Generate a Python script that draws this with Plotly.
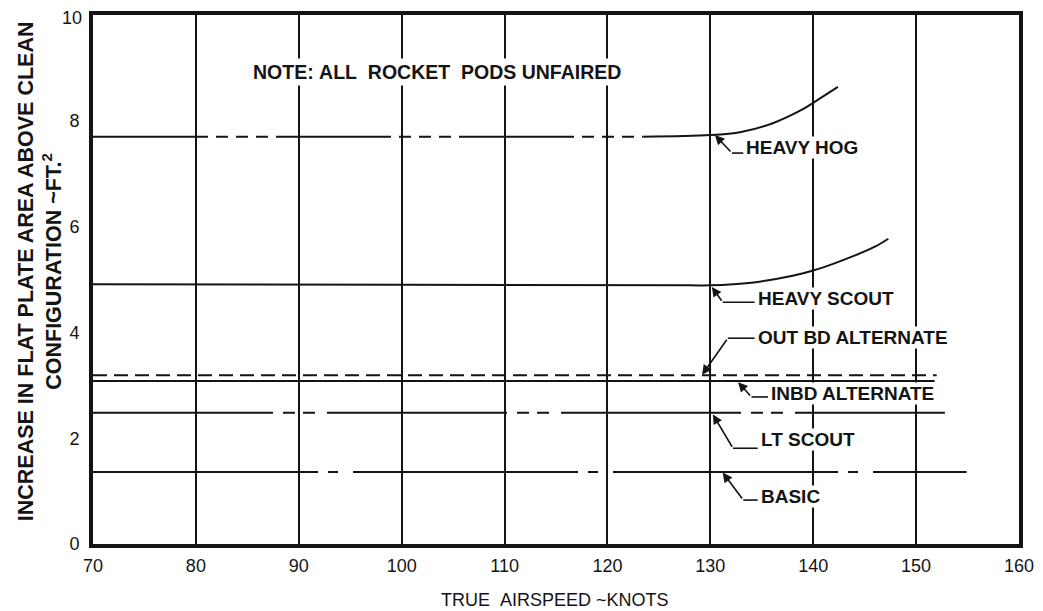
import plotly.graph_objects as go

# ---------------- data ----------------
X_TICKS = [70, 80, 90, 100, 110, 120, 130, 140, 150, 160]
Y_TICKS = [0, 2, 4, 6, 8, 10]

HOG_X = [70, 100, 123.5, 130, 133, 136, 139, 140, 142.4]
HOG_Y = [7.70, 7.70, 7.70, 7.73, 7.79, 7.95, 8.22, 8.34, 8.64]

SCOUT_X = [70, 100, 128, 130, 134, 138, 140, 142, 144, 146, 147.3]
SCOUT_Y = [4.91, 4.90, 4.89, 4.89, 4.94, 5.07, 5.17, 5.30, 5.45, 5.62, 5.77]

OUTBD_X = [70, 152.0]
OUTBD_Y = [3.19, 3.19]

INBD_X = [70, 151.8]
INBD_Y = [3.08, 3.08]

LT_X = [70, 152.8]
LT_Y = [2.48, 2.48]

BASIC_X = [70, 154.9]
BASIC_Y = [1.36, 1.36]

SERIES_NAMES = ["HEAVY HOG", "HEAVY SCOUT", "OUT BD ALTERNATE",
                "INBD ALTERNATE", "LT SCOUT", "BASIC"]

# label placement (tip on curve, kink, end of horizontal leader, text left/centre)
LABELS = [
    ("HEAVY HOG",        (130.45, 7.73), (132.1, 7.39), 133.2, 133.4, 7.50),
    ("HEAVY SCOUT",      (130.15, 4.86), (131.2, 4.57), 134.3, 134.5, 4.65),
    ("OUT BD ALTERNATE", (129.2, 3.20),  (131.7, 3.89), 134.3, 134.5, 3.91),
    ("INBD ALTERNATE",   (132.7, 3.06),  (134.0, 2.78), 135.6, 135.8, 2.85),
    ("LT SCOUT",         (130.25, 2.45), (132.2, 1.81), 134.6, 134.8, 1.98),
    ("BASIC",            (131.2, 1.35),  (133.2, 0.83), 134.6, 134.8, 0.89),
]

INK = "#141414"
FONT = "Liberation Sans, Arial, sans-serif"

fig = go.Figure()


def add_line(x, y, dash="solid", shape="linear"):
    fig.add_trace(go.Scatter(x=x, y=y, mode="lines",
                             line=dict(color=INK, width=2, dash=dash, shape=shape),
                             hoverinfo="skip", showlegend=False))


# HEAVY HOG: broken flat part, solid curved part
split = 123.5
hx1 = [x for x in HOG_X if x <= split]
hy1 = [y for x, y in zip(HOG_X, HOG_Y) if x <= split]
hx2 = [x for x in HOG_X if x >= split]
hy2 = [y for x, y in zip(HOG_X, HOG_Y) if x >= split]
add_line(hx1, hy1, dash="115px,8px,12px,8px,12px,8px,12px,8px")
add_line(hx2, hy2, shape="spline")

add_line(SCOUT_X, SCOUT_Y, shape="spline")
add_line(OUTBD_X, OUTBD_Y, dash="14px,7px")
add_line(INBD_X, INBD_Y)
add_line(LT_X, LT_Y, dash="180px,10px,12px,8px,12px,12px")
add_line(BASIC_X, BASIC_Y, dash="225px,10px,10px,15px")

annotations = []
shapes = []
for name, tip, kink, end_x, tx, ty in LABELS:
    annotations.append(dict(
        x=tip[0], y=tip[1], ax=kink[0], ay=kink[1], xref="x", yref="y",
        axref="x", ayref="y", text="", showarrow=True, arrowhead=2,
        arrowsize=1.2, arrowwidth=1.6, arrowcolor=INK, standoff=0))
    shapes.append(dict(type="line", xref="x", yref="y",
                       x0=kink[0], y0=kink[1], x1=end_x, y1=kink[1],
                       line=dict(color=INK, width=1.6)))
    annotations.append(dict(
        x=tx, y=ty, xref="x", yref="y", text=name, showarrow=False,
        xanchor="left", yanchor="middle", bgcolor="white", borderpad=0,
        font=dict(family=FONT, size=19, color=INK, weight="bold")))

# note
annotations.append(dict(
    x=103.4, y=8.92, xref="x", yref="y",
    text="NOTE:&nbsp;ALL&nbsp;&nbsp;ROCKET&nbsp;&nbsp;PODS&nbsp;UNFAIRED",
    showarrow=False, xanchor="center", yanchor="middle", bgcolor="white", borderpad=2,
    font=dict(family=FONT, size=19.5, color=INK, weight="bold")))

# top y tick label, nudged down slightly so it stays inside the page
top_tick = Y_TICKS[-1]
annotations.append(dict(
    x=0, y=top_tick, xref="paper", yref="y", text=str(top_tick),
    showarrow=False, xanchor="right", yanchor="top", xshift=-9, yshift=9,
    font=dict(family=FONT, size=18, color=INK)))

# axis titles
annotations.append(dict(
    x=-0.057, y=0.516, xref="paper", yref="paper", textangle=-90,
    text="INCREASE IN FLAT PLATE AREA ABOVE CLEAN<br>CONFIGURATION ~FT.<sup>2</sup>",
    showarrow=False, xanchor="center", yanchor="middle",
    font=dict(family=FONT, size=21.5, color=INK, weight="bold")))
annotations.append(dict(
    x=0.499, y=-0.105, xref="paper", yref="paper",
    text="TRUE&nbsp;&nbsp;AIRSPEED ~KNOTS", showarrow=False,
    xanchor="center", yanchor="middle",
    font=dict(family=FONT, size=18, color=INK)))

# the page places the figure 8 px in from the top-left corner
fig.update_layout(
    width=1035, height=603,
    margin=dict(l=85, r=24, t=7, b=67),
    paper_bgcolor="white", plot_bgcolor="white",
    showlegend=False,
    annotations=annotations, shapes=shapes,
    xaxis=dict(range=[70, 160], tickvals=X_TICKS, ticktext=[str(v) for v in X_TICKS],
               showgrid=True, gridcolor=INK, gridwidth=1.5, zeroline=False,
               showline=True, mirror=True, linewidth=4, linecolor=INK,
               ticks="outside", ticklen=2, tickcolor="rgba(0,0,0,0)",
               automargin=False, ticklabeloverflow="allow",
               tickfont=dict(family=FONT, size=18, color=INK)),
    yaxis=dict(range=[0, 10], tickvals=Y_TICKS[:-1], ticktext=[str(v) for v in Y_TICKS[:-1]],
               showgrid=False, zeroline=False,
               showline=True, mirror=True, linewidth=4, linecolor=INK,
               ticks="outside", ticklen=6, tickcolor="rgba(0,0,0,0)",
               automargin=False, ticklabeloverflow="allow",
               tickfont=dict(family=FONT, size=18, color=INK)),
)

fig.write_html("out.html")
